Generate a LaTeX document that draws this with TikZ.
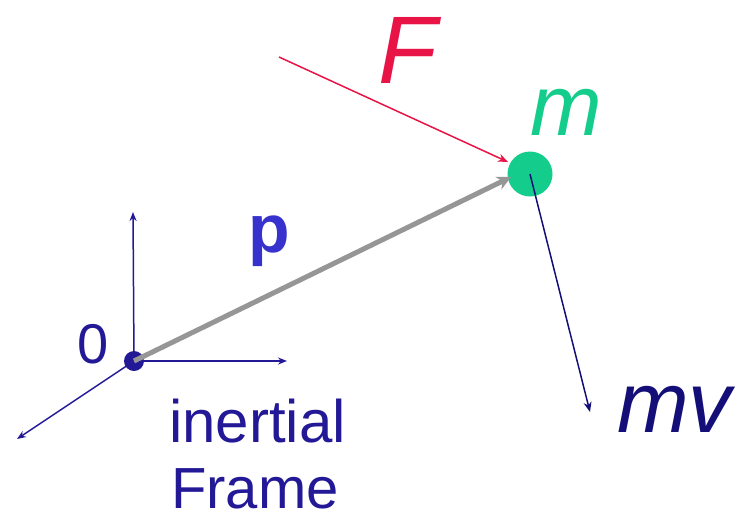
\documentclass[tikz,border=0pt]{standalone}
\usepackage{fontspec}
\setmainfont{Liberation Sans}
\usetikzlibrary{arrows.meta}
\definecolor{navy}{RGB}{35,25,150}
\definecolor{darknavy}{RGB}{20,15,120}
\definecolor{pblue}{RGB}{55,50,205}
\definecolor{fred}{RGB}{232,20,70}
\definecolor{mgreen}{RGB}{20,205,140}
\definecolor{pgray}{RGB}{150,150,150}
\tikzset{
  axis/.style={draw=navy, line width=1.5pt, -{Stealth[length=9pt,width=7pt]}},
  lbl/.style={inner sep=0pt, anchor=base west},
}
\begin{document}
\begin{tikzpicture}[x=1pt, y=-1pt]
\useasboundingbox (0,0) rectangle (737,520);
% points
\node[circle, fill=navy, minimum size=20pt, inner sep=0pt] (O) at (134,361) {};
\node[circle, fill=mgreen, minimum size=45pt, inner sep=0pt] (M) at (530,174) {};
\coordinate (yend) at (133,212);
\coordinate (xend) at (287,361);
\coordinate (zend) at (17,439);
\coordinate (ftail) at (279,57);
\coordinate (fhead) at (508,162);
\coordinate (phead) at (511,177);
\coordinate (vend) at (590,412);
% axes
\draw[axis] (O.center) -- (yend);
\draw[axis] (O.center) -- (xend);
\draw[axis] (O.center) -- (zend);
% momentum vector p
\draw[draw=pgray, line width=5pt, -{Stealth[length=14pt,width=14pt]}] (O.center) -- (phead);
% force
\draw[draw=fred, line width=1.5pt, -{Stealth[length=10pt,width=8pt]}] (ftail) -- (fhead);
% mv
\draw[draw=darknavy, line width=1.5pt, -{Stealth[length=10pt,width=8pt]}] (M.center) -- (vend);
% labels
\node[lbl, text=navy, font=\fontsize{56}{56}\selectfont] (zero) at (77,363) {0};
\node[lbl, text=pblue, font=\fontsize{68}{68}\selectfont\bfseries] (p) at (248,252) {p};
\node[lbl, text=fred, font=\fontsize{96}{96}\selectfont\itshape] (F) at (378,83) {F};
\node[lbl, text=mgreen, font=\fontsize{86}{86}\selectfont\itshape] (m) at (530,135) {m};
\node[lbl, text=darknavy, font=\fontsize{86}{86}\selectfont\itshape] (mv) at (617,432) {mv};
\node[lbl, text=navy, font=\fontsize{60}{60}\selectfont] (inertial) at (169,442) {inertial};
\node[lbl, text=navy, font=\fontsize{58}{58}\selectfont] (frame) at (171,508) {Frame};
\end{tikzpicture}
\end{document}
